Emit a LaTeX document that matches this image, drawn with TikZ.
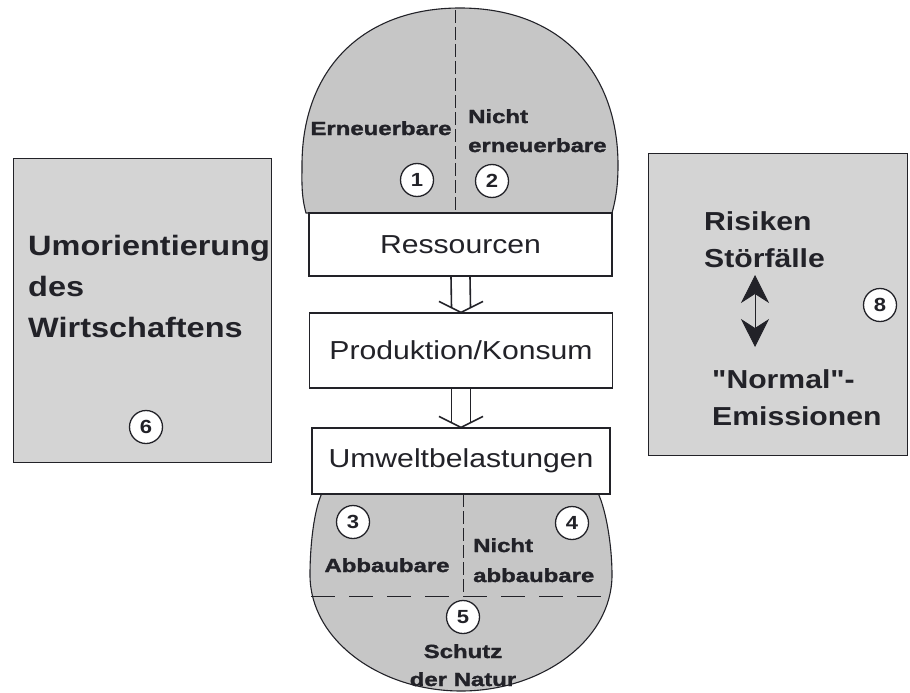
\documentclass[tikz,border=0pt]{standalone}
\usepackage{fontspec}
\setmainfont{Liberation Sans}[FakeStretch=1.16]
\newfontfamily\mainf{Liberation Sans}[FakeStretch=1.16]
\newfontfamily\blobfont{Liberation Sans}[FakeStretch=1.26,FakeBold=1.6]
\usetikzlibrary{arrows.meta,calc}
\definecolor{ink}{HTML}{222228}
\definecolor{blobgray}{HTML}{C6C6C6}
\definecolor{boxgray}{HTML}{D4D4D4}
\tikzset{
  midbox/.style={draw=ink, line width=1.1pt, fill=white, minimum width=303pt, inner sep=0pt,
    font=\mainf\fontsize{26}{30}\selectfont, text=ink},
  sidebox/.style={draw=ink, line width=1pt, fill=boxgray, inner sep=0pt},
  blob/.style={draw=ink, line width=1.1pt, fill=blobgray},
  numc/.style={circle, draw=ink, line width=1.3pt, fill=white, minimum size=33pt, inner sep=0pt,
    font=\mainf\bfseries\fontsize{19}{19}\selectfont, text=ink},
  lbl/.style={font=\blobfont\bfseries\fontsize{19}{19}\selectfont, text=ink, inner sep=0pt},
  bigl/.style={font=\mainf\bfseries\fontsize{28}{28}\selectfont, text=ink, inner sep=0pt},
  bigr/.style={font=\mainf\bfseries\fontsize{26}{26}\selectfont, text=ink, inner sep=0pt},
  dashv/.style={draw=ink, line width=0.9pt, dash pattern=on 13pt off 4pt},
  dashh/.style={draw=ink, line width=0.9pt, dash pattern=on 24pt off 14pt},
  arr/.style={draw=ink, line width=1.6pt},
}
\begin{document}
\begin{tikzpicture}[x=1pt,y=-1pt]
\useasboundingbox (0,0) rectangle (910,693);
\fill[white] (0,0) rectangle (910,693);

% top blob
\path[blob] (306,213) .. controls (301,195) and (302,180) .. (302,165)
  .. controls (302,70) and (362,8) .. (460,8)
  .. controls (558,8) and (618,70) .. (618,165)
  .. controls (618,180) and (617,195) .. (612,213) -- cycle;
\draw[dashv] (455,10) -- (455,213);

% bottom blob
\path[blob] (322,493) .. controls (314,510) and (310,545) .. (310,575)
  .. controls (310,640) and (380,691) .. (461,691)
  .. controls (542,691) and (612,640) .. (612,575)
  .. controls (612,545) and (606,510) .. (598,493) -- cycle;
\draw[dashv] (463,494) -- (463,596);
\draw[dashh] (311,596) -- (611,596);

% central boxes
\node[midbox, minimum height=63pt] (res) at (460.5,244.5) {Ressourcen};
\node[midbox, minimum height=75pt] (prod) at (461,350.5) {Produktion/Konsum};
\node[midbox, minimum height=66pt, minimum width=298pt] (umw) at (461,461) {Umweltbelastungen};

% double-line arrows
\foreach \a/\b in {res/prod, prod/umw}{
  \draw[arr] ([xshift=-9.5pt]\a.south) -- ([xshift=-9.5pt,yshift=4.75pt]\b.north);
  \draw[arr] ([xshift=9.5pt]\a.south) -- ([xshift=9.5pt,yshift=4.75pt]\b.north);
  \draw[arr] ([xshift=-22pt,yshift=11pt]\b.north) -- (\b.north) -- ([xshift=22pt,yshift=11pt]\b.north);
}

% top blob labels
\node[lbl, anchor=base] (ern) at (381,135) {Erneuerbare};
\node[lbl, anchor=base west] (nicht1) at (468,123) {Nicht};
\node[lbl, anchor=base west] (ern2) at (468,152) {erneuerbare};
\node[numc] (n1) at (417,180) {1};
\node[numc] (n2) at (492,181) {2};

% bottom blob labels
\node[numc] (n3) at (353,522) {3};
\node[numc] (n4) at (572,523) {4};
\node[lbl, anchor=base] (abb) at (387,572) {Abbaubare};
\node[lbl, anchor=base west] (nicht2) at (473,552) {Nicht};
\node[lbl, anchor=base west] (abb2) at (473,582) {abbaubare};
\node[numc] (n5) at (463,617) {5};
\node[lbl, anchor=base] (schutz) at (463,658) {Schutz};
\node[lbl, anchor=base] (natur) at (463,686) {der Natur};

% left box
\node[sidebox, minimum width=258pt, minimum height=304pt] (left) at (142,310) {};
\node[bigl, anchor=base west] (l1) at (28,255) {Umorientierung};
\node[bigl, anchor=base west] (l2) at (28,296) {des};
\node[bigl, anchor=base west] (l3) at (28,337) {Wirtschaftens};
\node[numc] (n6) at (146,427) {6};

% right box
\node[sidebox, minimum width=259pt, minimum height=302pt] (right) at (777.5,304) {};
\node[bigr, anchor=base west] (r1) at (704,230) {Risiken};
\node[bigr, anchor=base west] (r2) at (704,267) {Störfälle};
\node[bigr, anchor=base west] (r3) at (712,388) {"Normal"-};
\node[bigr, anchor=base west] (r4) at (712,425) {Emissionen};
\coordinate (up) at (755,275);
\coordinate (dn) at (755,347);
\draw[draw=ink, fill=ink, line width=0.8pt, {Stealth[length=28pt,width=28pt,inset=9pt]}-{Stealth[length=28pt,width=28pt,inset=9pt]}] (up) -- (dn);
\node[numc] (n8) at (880,305) {8};
\end{tikzpicture}
\end{document}
